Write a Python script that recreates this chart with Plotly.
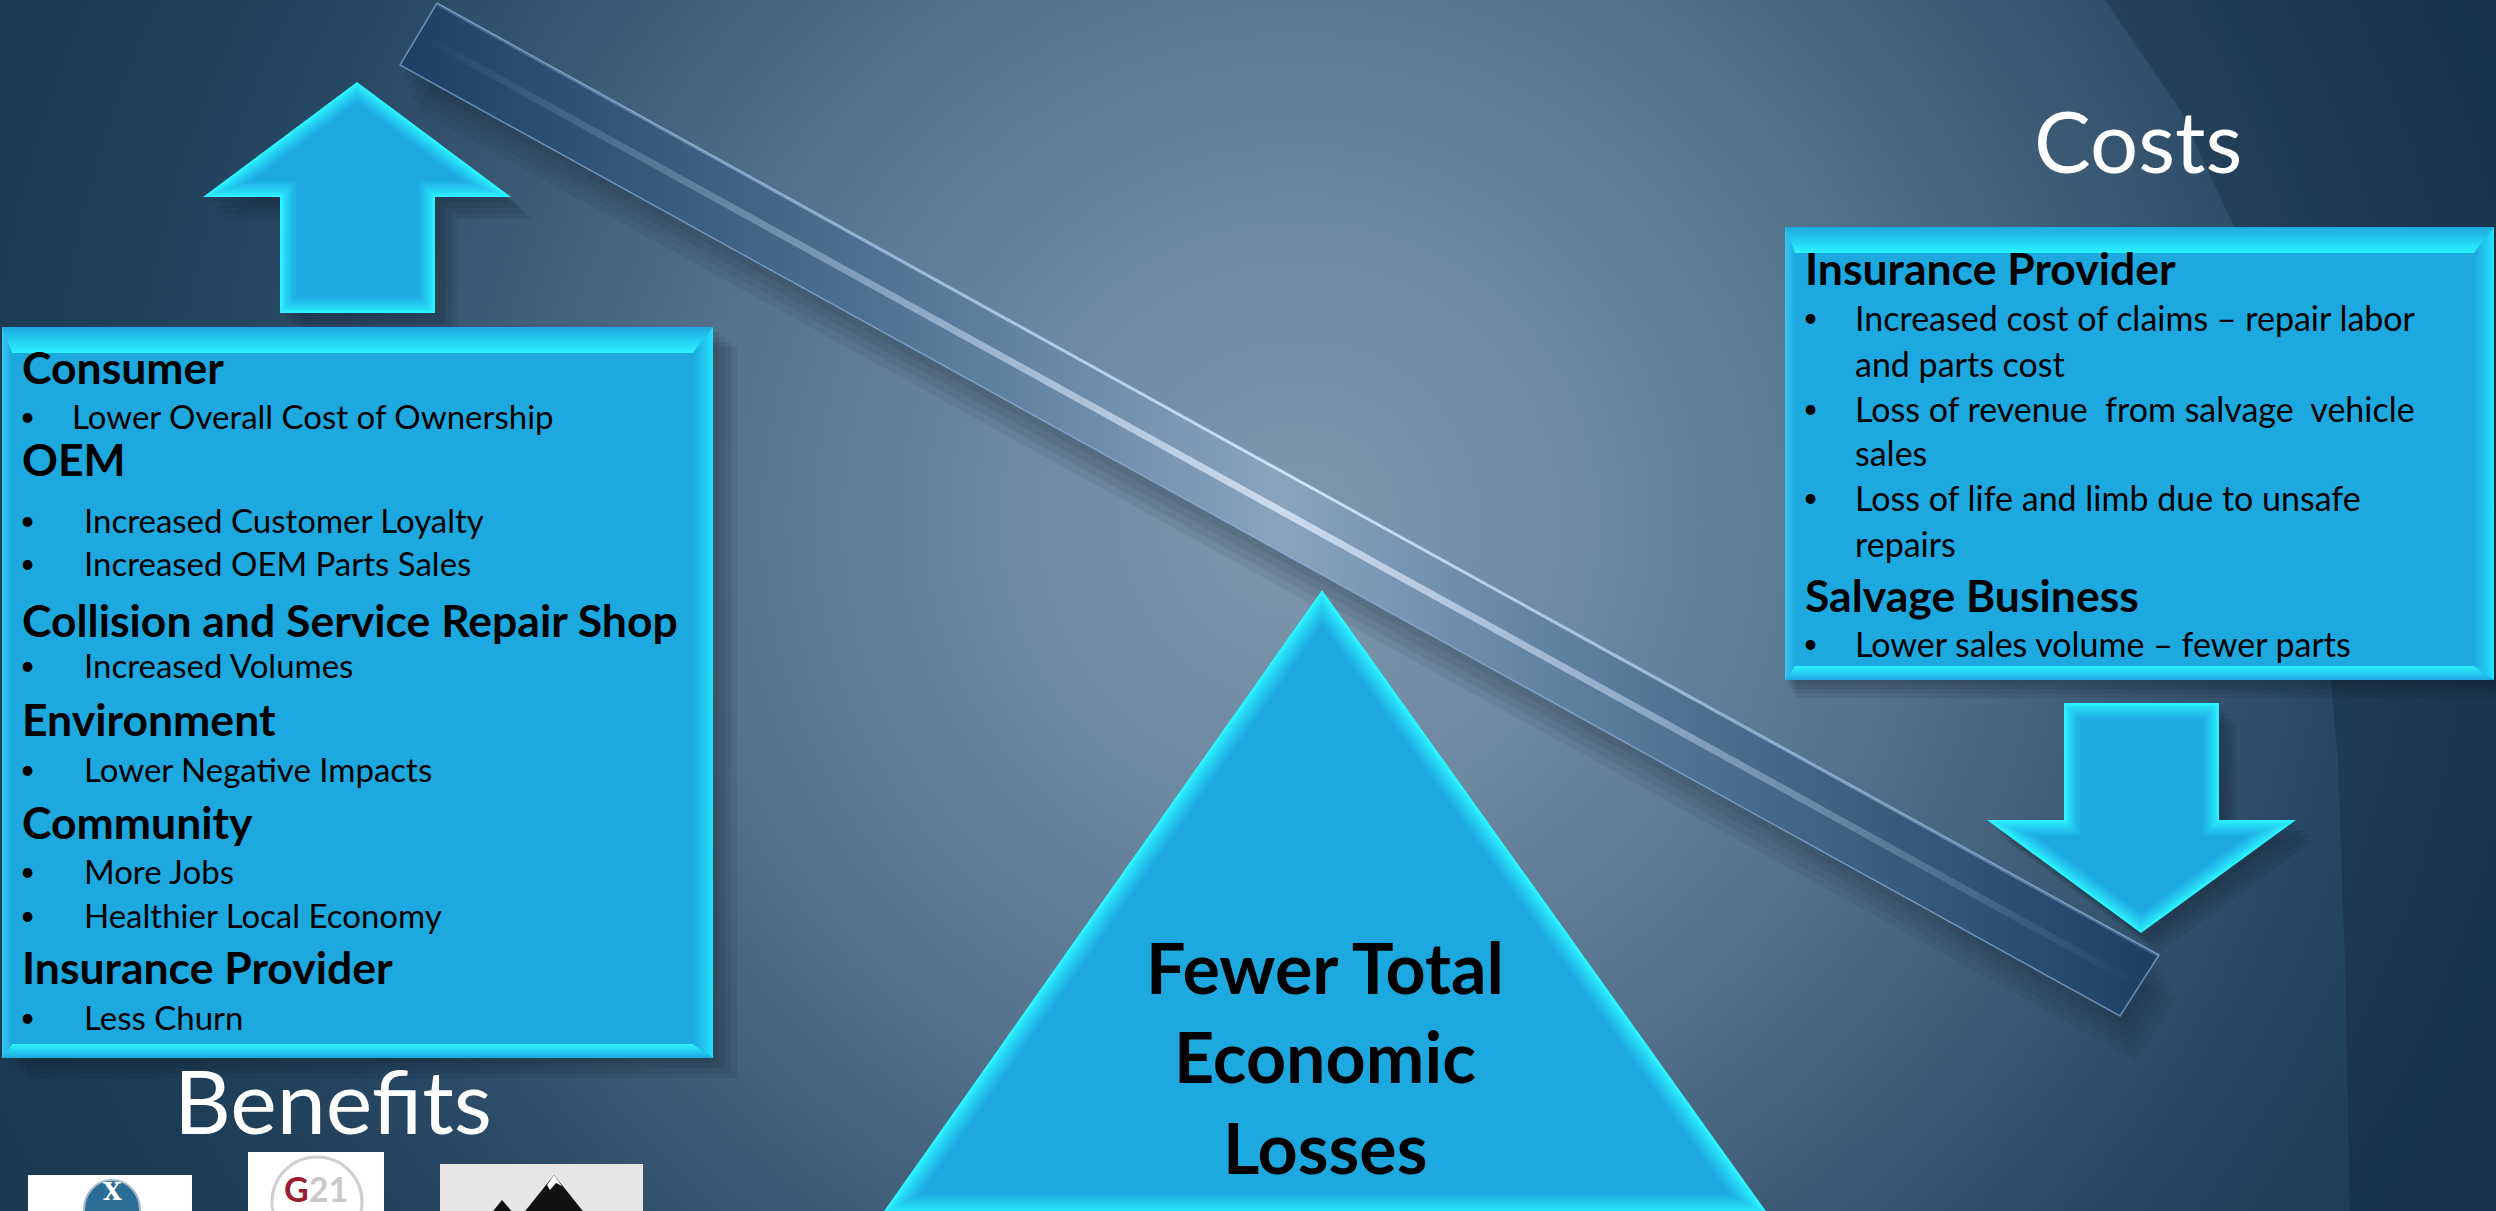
import plotly.graph_objects as go

# ------------------------------------------------------------------ data
benefits_title = "Benefits"
costs_title = "Costs"
benefit_groups = ["Consumer", "OEM", "Collision and Service Repair Shop",
                  "Environment", "Community", "Insurance Provider"]
benefit_items = [["Lower Overall Cost of Ownership"],
                 ["Increased Customer Loyalty", "Increased OEM Parts Sales"],
                 ["Increased Volumes"],
                 ["Lower Negative Impacts"],
                 ["More Jobs", "Healthier Local Economy"],
                 ["Less Churn"]]
cost_groups = ["Insurance Provider", "Salvage Business"]
cost_items = [[["Increased cost of claims \u2013 repair labor", "and parts cost"],
               ["Loss of revenue  from salvage  vehicle", "sales"],
               ["Loss of life and limb due to unsafe", "repairs"]],
              [["Lower sales volume \u2013 fewer parts"]]]
fulcrum_lines = ["Fewer Total", "Economic", "Losses"]

# ------------------------------------------------------------------ layout geometry (pixels)
W, H = 2496, 1211
FONT = "Lato"
HI = "#2CF3FF"
FILL = "#1DA8E0"

left_box = (2, 327, 713, 1058)
right_box = (1785, 227, 2494, 680)
left_rows_y = [366, 416, 458, 520, 563, 619, 665, 718, 769, 821, 871, 915, 966, 1017]
left_rows_x = [80, 70, 80, 82, 82, 80, 82, 80, 82, 80, 82, 82, 80, 82]
right_rows_y = [267, 317, 363, 408, 452, 497, 543, 594, 643]
up_arrow = [(357, 82), (511, 197), (435, 197), (435, 313), (280, 313), (280, 197), (203, 197)]
down_arrow = [(2064, 703), (2219, 703), (2219, 820), (2296, 820), (2141, 933), (1987, 820), (2064, 820)]
fulcrum = [(1322, 590), (1768, 1214), (882, 1214)]
beam = [(437, 3), (2159, 955), (2120, 1016), (400, 65)]


def hex2rgb(h):
    h = h.lstrip('#')
    return tuple(int(h[i:i + 2], 16) for i in (0, 2, 4))


def lerp(c1, c2, t):
    a, b = hex2rgb(c1), hex2rgb(c2)
    return '#%02x%02x%02x' % tuple(int(round(a[i] + (b[i] - a[i]) * t)) for i in range(3))


def offset_poly(pts, d):
    n = len(pts)
    area = sum(pts[i][0] * pts[(i + 1) % n][1] - pts[(i + 1) % n][0] * pts[i][1] for i in range(n)) / 2
    s = 1 if area > 0 else -1
    lines = []
    for i in range(n):
        x1, y1 = pts[i]
        x2, y2 = pts[(i + 1) % n]
        dx, dy = x2 - x1, y2 - y1
        L = (dx * dx + dy * dy) ** 0.5
        nx, ny = -dy / L * s, dx / L * s
        lines.append(((x1 + nx * d, y1 + ny * d), (dx, dy)))
    out = []
    for i in range(n):
        p1, d1 = lines[i - 1]
        p2, d2 = lines[i]
        den = d1[0] * d2[1] - d1[1] * d2[0]
        if abs(den) < 1e-9:
            out.append(p2)
            continue
        t = ((p2[0] - p1[0]) * d2[1] - (p2[1] - p1[1]) * d2[0]) / den
        out.append((p1[0] + t * d1[0], p1[1] + t * d1[1]))
    return out


fig = go.Figure()


def poly(pts, color=None, opacity=1.0, line=None, grad=None):
    xs = [p[0] for p in pts] + [pts[0][0]]
    ys = [p[1] for p in pts] + [pts[0][1]]
    kw = dict(x=xs, y=ys, fill='toself', hoverinfo='skip', showlegend=False, opacity=opacity)
    if line:
        kw['mode'] = 'lines'
        kw['line'] = line
    else:
        kw['mode'] = 'none'
    if grad:
        kw['fillgradient'] = grad
    else:
        kw['fillcolor'] = color
    fig.add_trace(go.Scatter(**kw))


def rect(x0, y0, x1, y1):
    return [(x0, y0), (x1, y0), (x1, y1), (x0, y1)]


def shadow(pts, dx, dy, steps=4, alpha=0.09):
    for k in range(1, steps + 1):
        f = k / steps
        poly([(x + dx * f, y + dy * f) for x, y in pts], color='rgba(8,20,34,%.3f)' % alpha)


# ---- background
cx, cy, R = 1300, 520, 1500
poly(rect(cx - R, cy - R, cx + R, cy + R),
     grad=dict(type='radial', colorscale=[[0, '#7e97ad'], [0.2, '#6d88a1'], [0.4, '#55728c'],
                                          [0.55, '#3e5c76'], [0.7, '#284762'], [0.85, '#1d3c55'],
                                          [1, '#1a3850']]))
# darker region outside the big ring on the right
ring = [(2105, 0), (2180, 110), (2240, 240), (2290, 400), (2320, 560), (2338, 760), (2345, 960),
        (2350, 1211), (2496, 1211), (2496, 0)]
poly(ring, color='rgba(12,28,45,0.28)')

# ---- shadows
shadow(rect(*left_box), 24, 20)
shadow(rect(*right_box), 10, 18)
shadow(up_arrow, 22, 22)
shadow(down_arrow, 18, 20)
shadow(beam, 16, 44, steps=4, alpha=0.08)

# ---- beam
poly(beam, line=dict(color='rgba(150,190,230,0.6)', width=1.5),
     grad=dict(type='horizontal', colorscale=[[0, '#1c4063'], [0.25, '#4a6d90'], [0.5, '#8aa4bd'],
                                              [0.75, '#4a6d90'], [1, '#1c4063']]))
bx0 = ((beam[0][0] + beam[3][0]) / 2, (beam[0][1] + beam[3][1]) / 2)
bx1 = ((beam[1][0] + beam[2][0]) / 2, (beam[1][1] + beam[2][1]) / 2)
hl = [(bx0[0], bx0[1] - 4), (bx1[0], bx1[1] - 4), (bx1[0], bx1[1] + 4), (bx0[0], bx0[1] + 4)]
poly(hl, grad=dict(type='horizontal', colorscale=[[0, 'rgba(210,230,255,0)'], [0.5, 'rgba(225,238,255,0.75)'],
                                                  [1, 'rgba(210,230,255,0)']]))
tl = [beam[0], beam[1], (beam[1][0], beam[1][1] + 3), (beam[0][0], beam[0][1] + 3)]
poly(tl, grad=dict(type='horizontal', colorscale=[[0, 'rgba(190,220,255,0.2)'], [0.5, 'rgba(220,240,255,0.85)'],
                                                  [1, 'rgba(190,220,255,0.2)']]))


# ---- beveled boxes
def bevel_box(b, t=26, r=20, btm=14, l=10):
    x0, y0, x1, y1 = b
    poly(rect(x0, y0, x1, y1), color=FILL)
    poly([(x0, y0), (x1, y0), (x1 - r, y0 + t), (x0 + l, y0 + t)],
         grad=dict(type='vertical', colorscale=[[0, HI], [1, FILL]]))
    poly([(x0 + l, y1 - btm), (x1 - r, y1 - btm), (x1, y1), (x0, y1)],
         grad=dict(type='vertical', colorscale=[[0, FILL], [1, HI]]))
    poly([(x0, y0), (x0 + l, y0 + t), (x0 + l, y1 - btm), (x0, y1)],
         grad=dict(type='horizontal', colorscale=[[0, '#37c8ee'], [1, FILL]]))
    poly([(x1 - r, y0 + t), (x1, y0), (x1, y1), (x1 - r, y1 - btm)],
         grad=dict(type='horizontal', colorscale=[[0, FILL], [1, '#25e0fc']]))


bevel_box(left_box)
bevel_box(right_box)


def bevel_poly(pts, d, n=7):
    for k in range(n + 1):
        t = k / n
        col = lerp(HI, FILL, min(1.0, t ** 0.8))
        poly(offset_poly(pts, d * t) if k else pts, color=col)


bevel_poly(up_arrow, 16)
bevel_poly(down_arrow, 16)
bevel_poly(fulcrum, 20)

# ---- logos
poly(rect(28, 1175, 192, 1215), color='#ffffff')
poly(rect(248, 1152, 384, 1215), color='#ffffff')
poly(rect(440, 1164, 643, 1215), color='#e6e6e6')
poly([(554, 1175), (586, 1215), (522, 1215)], color='#111111')
poly([(502, 1200), (515, 1215), (490, 1215)], color='#111111')
poly([(554, 1175), (562, 1186), (556, 1183), (550, 1190), (547, 1185)], color='#ffffff')

shapes = [
    dict(type='circle', xref='x', yref='y', x0=84, y0=1180, x1=140, y1=1240,
         fillcolor='#2b6e93', line=dict(color='#9fbccc', width=2)),
    dict(type='circle', xref='x', yref='y', x0=272, y0=1157, x1=362, y1=1247,
         fillcolor='rgba(0,0,0,0)', line=dict(color='#cfcfcf', width=3)),
]

ann = []


def txt(x, y, s, size, bold=False, color='#000000', anchor='left', family=FONT):
    ann.append(dict(x=x, y=y, xref='x', yref='y', text=('<b>%s</b>' % s) if bold else s,
                    showarrow=False, xanchor=anchor, yanchor='middle',
                    font=dict(family=family, size=size, color=color)))


# left box text
rows = []
for g, items in zip(benefit_groups, benefit_items):
    rows.append(('h', g))
    for it in items:
        rows.append(('b', it))
for (kind, s), y, x in zip(rows, left_rows_y, left_rows_x):
    if kind == 'h':
        txt(20, y, s, 44.5, bold=True)
    else:
        txt(27, y, '\u2022', 26, anchor='center')
        txt(x, y, s, 33)

# right box text
rows = []
for g, items in zip(cost_groups, cost_items):
    rows.append(('h', g))
    for it in items:
        rows.append(('b', it[0]))
        for cont in it[1:]:
            rows.append(('c', cont))
for (kind, s), y in zip(rows, right_rows_y):
    if kind == 'h':
        txt(1803, y, s, 44.5, bold=True)
    elif kind == 'b':
        txt(1810, y, '\u2022', 26, anchor='center')
        txt(1853, y, s, 34)
    else:
        txt(1853, y, s, 34)

txt(2138, 140, costs_title, 85, color='#ffffff', anchor='center')
txt(333, 1100, benefits_title, 88, color='#ffffff', anchor='center')
for s, y in zip(fulcrum_lines, [967, 1056, 1147]):
    txt(1325, y, s, 70, bold=True, anchor='center')

# logo marks
txt(112, 1191, 'X', 24, bold=True, color='#ffffff', anchor='center', family='DejaVu Serif')
ann.append(dict(x=316, y=1188, xref='x', yref='y', showarrow=False, xanchor='center', yanchor='middle',
                text="<b><span style='color:#9b1c31'>G</span><span style='color:#c9c9c9'>21</span></b>",
                font=dict(family=FONT, size=34)))

fig.update_layout(
    width=W, height=H, margin=dict(l=0, r=0, t=0, b=0),
    paper_bgcolor='#1a3850', plot_bgcolor='rgba(0,0,0,0)',
    xaxis=dict(range=[0, W], visible=False, fixedrange=True),
    yaxis=dict(range=[H, 0], visible=False, fixedrange=True),
    shapes=shapes, annotations=ann, showlegend=False,
)

fig.write_html("out.html", config={'displayModeBar': False},
               post_script="document.body.style.margin='0';document.body.style.overflow='hidden';")
